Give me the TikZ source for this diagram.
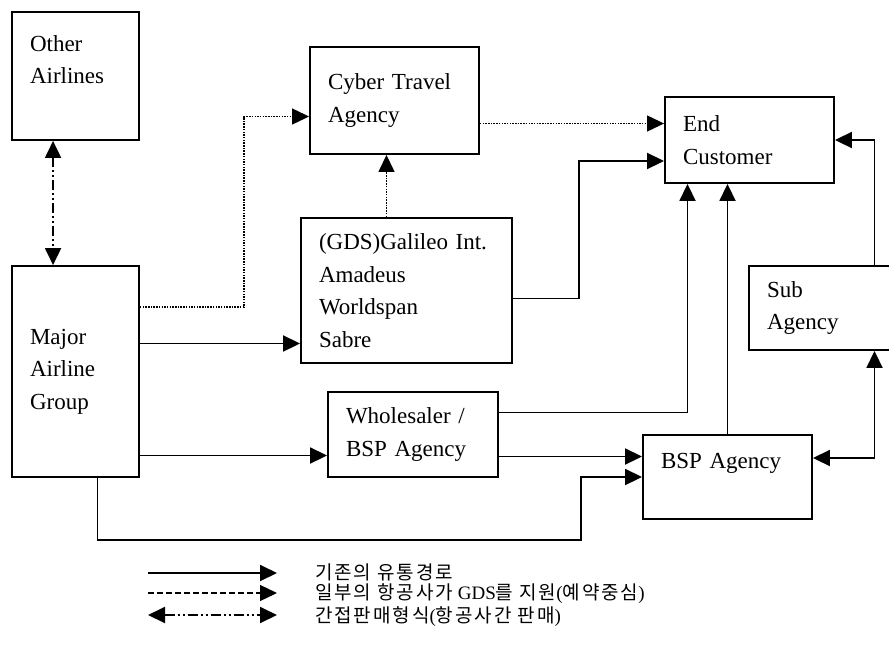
\documentclass[tikz,border=0pt]{standalone}
\usepackage{fontspec}
\setmainfont{Liberation Serif}
\newfontfamily\cjk[LetterSpace=10]{Noto Sans CJK KR}
\usetikzlibrary{arrows.meta}

\begin{document}
\begin{tikzpicture}[
			x=1pt, y=-1pt,
			box/.style={draw, line width=1.9pt, align=left, inner xsep=18pt, inner ysep=0pt, font=\fontsize{23}{32.5}\selectfont},
			arrow/.style={-{Triangle[length=17pt, width=16pt]}, line width=1.9pt},
			dotarrow/.style={arrow, line width=1.3pt, dash pattern=on 1.5pt off 1.2pt},
			dasharrow/.style={arrow, line width=1.3pt, dash pattern=on 6pt off 3pt},
			dashdot/.style={{Triangle[length=17pt, width=16pt]}-{Triangle[length=17pt, width=16pt]}, line width=1.9pt, dash pattern=on 10pt off 3pt on 2pt off 3pt on 2pt off 3pt},
			legtxt/.style={anchor=west, inner xsep=0pt, font=\fontsize{19}{22}\selectfont}
		]
		\useasboundingbox (0,0) rectangle (889,659);

		% boxes
		\node[box, text width=91pt, minimum height=128pt] (other) at (75.5,76) {Other\\Airlines\\~};
		\node[box, text width=91pt, minimum height=211pt] (major) at (75.5,371.5) {Major\\Airline\\Group};
		\node[box, text width=133pt, minimum height=107pt] (cyber) at (394.5,100.5) {Cyber Travel\\Agency};
		\node[box, text width=175pt, minimum height=145pt] (gds) at (406.5,290.5) {(GDS)Galileo Int.\\Amadeus\\Worldspan\\Sabre};
		\node[box, text width=134pt, minimum height=85pt] (whole) at (413,434.5) {Wholesaler /\\BSP Agency};
		\node[box, text width=133pt, minimum height=84pt] (bsp) at (727.5,477) {BSP Agency\\~};
		\node[box, text width=133pt, minimum height=86pt] (endc) at (749.5,140) {End\\Customer};
		\node[box, text width=107pt, minimum height=84pt] (sub) at (820.5,308) {Sub\\Agency};

		% connectors
		\draw[dashdot] ([xshift=42pt]other.south west) -- ([xshift=42pt]major.north west);
		\draw[dotarrow] ([yshift=-42pt]major.north east) -| ([xshift=-65pt, yshift=-16pt]cyber.west) -- ([yshift=-16pt]cyber.west);
		\draw[dotarrow] ([yshift=-23pt]cyber.east) -- ([yshift=-23pt]cyber.east -| endc.west);
		\draw[dotarrow] ([xshift=-20pt]gds.north) -- ([xshift=-20pt]gds.north |- cyber.south);
		\draw[arrow] ([yshift=-8pt]gds.east) -- ++(66,0) |- ([yshift=-21pt]endc.west);
		\draw[arrow] ([yshift=28pt]major.east) -- ([yshift=28pt]major.east -| gds.west);
		\draw[arrow] ([yshift=-84pt]major.east) -- ([yshift=-84pt]major.east -| whole.west);
		\draw[arrow] ([xshift=22pt]major.south) -- ++(0,62) -| ([xshift=-61pt]bsp.west) -- (bsp.west);
		\draw[arrow] ([yshift=-22pt]whole.east) -- ([yshift=-22pt]whole.east -| bsp.west);
		\draw[arrow] ([yshift=22pt]whole.east) -| ([xshift=-62pt]endc.south);
		\draw[arrow] (bsp.north) -- (bsp.north |- endc.south);
		\draw[arrow] ([xshift=54pt]sub.north) |- (endc.east);
		\draw[arrow, {Triangle[length=17pt, width=16pt]}-{Triangle[length=17pt, width=16pt]}] ([yshift=19pt]bsp.east) -| ([xshift=54pt]sub.south);

		% legend
		\coordinate (solida) at (148,573);
		\coordinate (solidb) at (277,573);
		\coordinate (dasha) at (148,593);
		\coordinate (dashb) at (277,593);
		\coordinate (mixa) at (148,615);
		\coordinate (mixb) at (277,615);
		\draw[arrow] (solida) -- (solidb);
		\draw[dasharrow] (dasha) -- (dashb);
		\draw[dashdot] (mixa) -- (mixb);
		\node[legtxt] (solidtxt) at (315,572) {{\cjk 기존의 유통경로}};
		\node[legtxt] (dashtxt) at (315,594) {{\cjk 일부의 항공사가} GDS{\cjk 를 지원}({\cjk 예약중심})};
		\node[legtxt] (mixtxt) at (315,617) {{\cjk 간접판매형식}({\cjk 항공사간 판매})};
	\end{tikzpicture}
\end{document}
